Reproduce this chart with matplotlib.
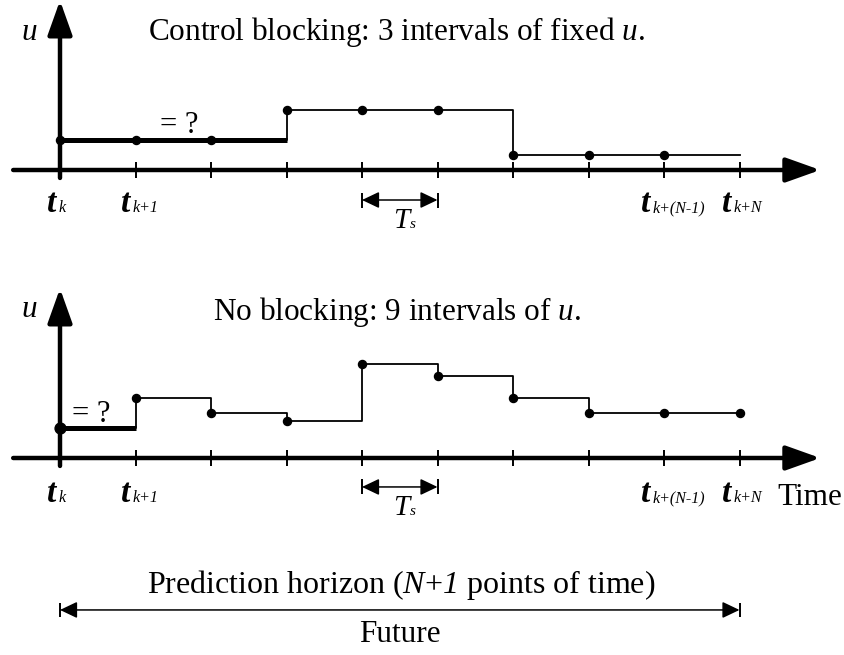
import numpy as np
import matplotlib.pyplot as plt

plt.rcParams['font.family'] = 'Liberation Serif'
plt.rcParams['mathtext.fontset'] = 'custom'
plt.rcParams['mathtext.rm'] = 'Liberation Serif'
plt.rcParams['mathtext.it'] = 'Liberation Serif:italic'
plt.rcParams['mathtext.sf'] = 'Liberation Serif:italic'   # italic digits

# sample instants t_k ... t_{k+N}
steps = np.arange(10)
# control value held over each of the 9 intervals (arbitrary units)
u_blocked = [2, 2, 2, 4, 4, 4, 1, 1, 1]
u_free = [2, 4, 3, 2.5, 6.25, 5.5, 4, 3, 3]

# labelled instants and their subscripts
label_steps = [0, 1, 8, 9]
label_subs = ['k', 'k+1', 'k+(N-1)', 'k+N']
label_dx = [-13, -15, -23, -18]   # pixel shift of each "t"

titles = ['Control blocking: 3 intervals of fixed $u$.',
          'No blocking: 9 intervals of $u$.']

fig = plt.figure(figsize=(8.45, 6.55), dpi=100)

# 75.5 px per time step, 15 px per unit of u
XPX, YPX = 75.5, 15.0
H = 655 / YPX


def draw_panel(ax, u, n_thick, axis_px, title, title_x, title_y, u_lab_y,
               eq_x, eq_y, lab_y, ts_y, free):
    ax.set_xlim(-60 / XPX, 785 / XPX)
    ax.set_ylim(axis_px / YPX - H, axis_px / YPX)
    ax.axis('off')

    # time axis and u axis with arrow heads
    arrow = dict(arrowstyle='-|>,head_length=21,head_width=7.5', mutation_scale=1,
                 lw=3.2, color='k', shrinkA=0, shrinkB=0, capstyle='round')
    ax.annotate('', xy=(10.07, 0), xytext=(-0.62, 0), arrowprops=arrow)
    ax.annotate('', xy=(0, 11.3), xytext=(0, -0.53), arrowprops=arrow)
    ax.vlines(steps[1:], -0.53, 0.53, color='k', lw=1.4)

    # piecewise constant control
    uu = np.append(u, u[-1])
    ax.step(steps, uu, where='post', color='k', lw=1.3)
    ax.hlines(u[0], steps[0], steps[n_thick], color='k', lw=3.6)
    ax.plot(steps[:9], u, 'o', color='k', ms=5.8)
    if free:
        ax.plot(steps[9], u[-1], 'o', color='k', ms=5.8)
        ax.plot(steps[0], u[0], 'o', color='k', ms=7.8)

    ax.text(eq_x, eq_y, '= ?', fontsize=22, va='baseline')
    ax.text(title_x, title_y, title, fontsize=22.5, va='baseline')
    ax.text(-0.41, u_lab_y, '$u$', fontsize=22.5, va='baseline', ha='center')

    # instant labels
    for s, sub, dx in zip(label_steps, label_subs, label_dx):
        ax.annotate('t', (s, lab_y), xytext=(dx, 0), textcoords='offset pixels',
                    fontsize=24, fontweight='bold', style='italic', va='baseline')
        ax.annotate(sub, (s, lab_y), xytext=(dx + 12, 0), textcoords='offset pixels',
                    fontsize=11.5, style='italic', va='baseline')

    # sample time T_s
    ax.annotate('', xy=(4, ts_y), xytext=(5, ts_y),
                arrowprops=dict(arrowstyle='<|-|>,head_length=10.5,head_width=5',
                                mutation_scale=1, lw=1.1, color='k', shrinkA=0, shrinkB=0))
    ax.vlines([4, 5], ts_y - 0.5, ts_y + 0.5, color='k', lw=1.4)
    ax.text(4.41, ts_y - 1.85, 'T', fontsize=21, style='italic', va='baseline')
    ax.annotate('s', (4.41, ts_y - 1.85), xytext=(17, 0), textcoords='offset pixels',
                fontsize=11, style='italic', va='baseline')


ax1 = fig.add_axes([0, 0, 1, 1])
ax1.patch.set_visible(False)
draw_panel(ax1, u_blocked, 3, 170, titles[0], 1.166, 8.67, 8.67,
           1.32, 2.47, -2.8, -2.0, False)

ax2 = fig.add_axes([0, 0, 1, 1])
ax2.patch.set_visible(False)
draw_panel(ax2, u_free, 1, 458, titles[1], 2.03, 9.2, 9.4,
           0.16, 2.4, -2.93, -1.93, True)

ax2.text(9.5, -3.13, 'Time', fontsize=22.5, va='baseline')

# prediction horizon
ax2.annotate('', xy=(steps[0], -10.13), xytext=(steps[-1], -10.13),
             arrowprops=dict(arrowstyle='<|-|>,head_length=10.5,head_width=5',
                             mutation_scale=1, lw=1.1, color='k', shrinkA=0, shrinkB=0))
ax2.vlines([steps[0], steps[-1]], -10.6, -9.66, color='k', lw=1.4)
ax2.text(4.52, -9.0, 'Prediction horizon ($N$+$\\mathsf{1}$ points of time)',
         fontsize=23, ha='center', va='baseline')
ax2.text(4.5, -12.27, 'Future', fontsize=22.5, ha='center', va='baseline')

fig.savefig('out.png', dpi=100)
